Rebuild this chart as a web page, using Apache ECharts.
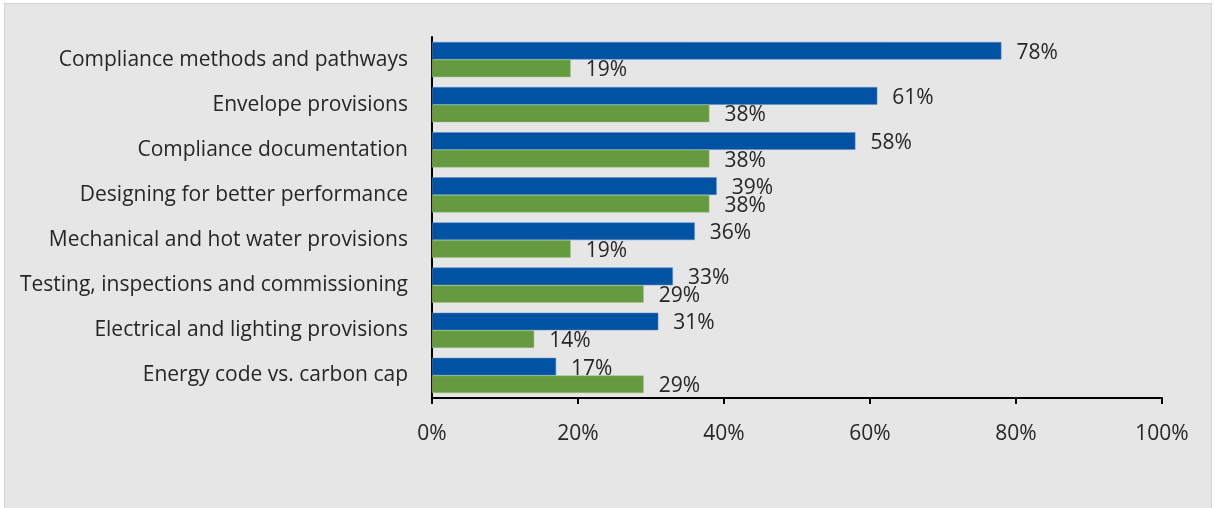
<!DOCTYPE html>
<html>
<head>
<meta charset="utf-8">
<script src="https://cdn.jsdelivr.net/npm/echarts@6/dist/echarts.min.js"></script>
<style>
  html, body { margin: 0; padding: 0; background: #ffffff; }
  #chart { width: 1215px; height: 508px; }
</style>
</head>
<body>
<div id="chart"></div>
<script>
// Topic categories, listed top to bottom
const categories = [
  'Compliance methods and pathways',
  'Envelope provisions',
  'Compliance documentation',
  'Designing for better performance',
  'Mechanical and hot water provisions',
  'Testing, inspections and commissioning',
  'Electrical and lighting provisions',
  'Energy code vs. carbon cap'
];
// Share of respondents (%) for each of the two groups
const blueValues = [78, 61, 58, 39, 36, 33, 31, 17];
const greenValues = [19, 38, 38, 38, 19, 29, 14, 29];
// Value axis tick labels
const xTicks = ['0%', '20%', '40%', '60%', '80%', '100%'];

const font = 'Open Sans, Liberation Sans, sans-serif';
const chart = echarts.init(document.getElementById('chart'), null, { renderer: 'canvas' });

const labelStyle = {
  show: true,
  position: 'right',
  distance: 15,
  offset: [0, 2],
  formatter: p => p.value + '%',
  color: '#262626',
  fontSize: 21,
  fontFamily: font
};

chart.setOption({
  backgroundColor: '#ffffff',
  animation: false,
  graphic: [{
    type: 'rect',
    left: 4,
    top: 3,
    shape: { width: 1207, height: 510 },
    style: { fill: '#e6e6e6', stroke: '#d4d4d4', lineWidth: 1 },
    z: -10,
    silent: true
  }],
  grid: { left: 432, right: 53, top: 37, bottom: 110, containLabel: false },
  xAxis: {
    type: 'value',
    min: 0,
    max: 100,
    interval: 20,
    axisLine: { show: true, lineStyle: { color: '#000000', width: 2 } },
    axisTick: { show: true, length: 6, lineStyle: { color: '#000000', width: 2 } },
    splitLine: { show: false },
    axisLabel: {
      margin: 26,
      color: '#262626',
      fontSize: 21,
      fontFamily: font,
      formatter: v => xTicks[Math.round(v / 20)]
    }
  },
  yAxis: {
    type: 'category',
    inverse: true,
    data: categories,
    axisLine: { show: true, lineStyle: { color: '#000000', width: 2 } },
    axisTick: { show: false },
    axisLabel: {
      margin: 24,
      color: '#262626',
      fontSize: 21,
      fontFamily: font
    }
  },
  series: [
    {
      type: 'bar',
      data: blueValues,
      barGap: '0%',
      barCategoryGap: '22%',
      itemStyle: { color: '#0052a3', borderColor: '#5b8fd0', borderWidth: 0.5 },
      label: labelStyle
    },
    {
      type: 'bar',
      data: greenValues,
      barGap: '0%',
      barCategoryGap: '22%',
      itemStyle: { color: '#659a41', borderColor: '#9cc47f', borderWidth: 0.5 },
      label: labelStyle
    }
  ]
});
</script>
</body>
</html>
